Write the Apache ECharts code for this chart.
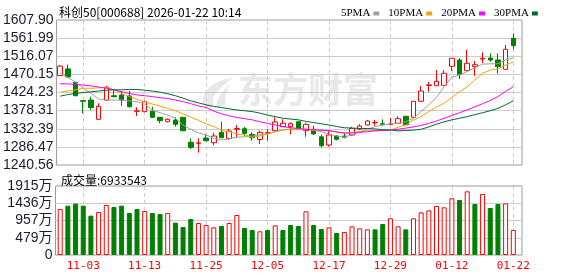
<!DOCTYPE html>
<html><head><meta charset="utf-8">
<script src="https://cdn.jsdelivr.net/npm/echarts@6/dist/echarts.min.js"></script>
<style>html,body{margin:0;padding:0;background:#fff}#c{width:578px;height:276px}</style>
</head><body><div id="c"></div>
<script>
const categories = ['10-29','10-30','10-31','11-03','11-04','11-05','11-06','11-07','11-10','11-11','11-12','11-13','11-14','11-17','11-18','11-19','11-20','11-21','11-24','11-25','11-26','11-27','11-28','12-01','12-02','12-03','12-04','12-05','12-08','12-09','12-10','12-11','12-12','12-15','12-16','12-17','12-18','12-19','12-22','12-23','12-24','12-25','12-26','12-29','12-30','12-31','01-05','01-06','01-07','01-08','01-09','01-12','01-13','01-14','01-15','01-16','01-19','01-20','01-21','01-22'];
const openP  = [1467,1484,1450,1403.5,1405,1356.3,1405,1416,1418,1415.4,1376.5,1375.6,1377,1361.4,1350.3,1354.6,1361.4,1298,1295.5,1309,1297,1323.4,1307.8,1331,1332.5,1318,1305.2,1321.5,1327.4,1337.6,1337.6,1350.2,1327.4,1331,1312,1291.2,1314,1314,1316.6,1331.7,1341.9,1347.5,1345,1343,1346.3,1364,1361.4,1402,1442,1441.5,1442.6,1490.6,1506.6,1479.5,1489.6,1509,1511.6,1506.6,1483,1561.5];
const closeP = [1491,1463.5,1416,1402,1386,1389.2,1437.4,1413.5,1405,1388.3,1377.5,1400.9,1361.4,1352.8,1356.3,1343.7,1327.4,1285.4,1296.5,1302,1314,1309.6,1326.4,1333,1320.8,1309.6,1323.4,1322.5,1349.5,1346.3,1345.3,1331,1343.7,1319.3,1289.5,1316.6,1305.6,1311,1333.4,1339.3,1352,1348.5,1343.7,1344.6,1357.9,1342.6,1402,1428,1443.5,1452.6,1472.9,1510.9,1470.4,1498.2,1494.7,1511,1506.6,1489.7,1533.6,1542.8];
const lowP   = [1466,1463,1415,1371.5,1380,1355,1404,1412,1390,1386,1364.7,1375,1360.5,1346,1348.7,1337.6,1327,1281,1272,1301,1291,1309,1303.8,1310,1314,1302,1293.8,1302,1325,1337,1318.3,1330.5,1312,1316.8,1285.4,1287,1303,1308,1314,1329,1341,1340,1340,1343,1346,1341,1360,1401.5,1426,1441,1441,1479,1458.4,1479,1466.8,1498,1502.3,1472,1483,1534];
const highP  = [1494,1495,1450.5,1404,1413.6,1397,1441.5,1430,1428,1428,1386.7,1403.5,1388,1362,1358,1361.4,1362,1308,1308,1319,1322,1350,1331.6,1342,1337,1323.4,1327.4,1331,1361.4,1356.3,1348.7,1350.5,1346.3,1340,1318,1329,1316,1321,1337.6,1344,1354.6,1354.6,1356,1360,1364,1364.5,1402.5,1440.7,1450.8,1481.2,1481,1511,1511,1532,1504,1526,1523.5,1523.5,1544.6,1574];
const prevCloseBefore = 1460;
const ma5  = [1473,1462,1451,1435,1422,1408,1405,1405,1405,1403,1401,1395,1380,1373,1367,1359,1342,1331,1322,1317,1308,1304,1307,1311,1312,1314,1317,1319,1325,1329,1331,1332,1331,1329,1325,1319,1314,1311,1317,1325,1331,1338,1342,1344,1346,1350,1359,1376,1393,1412,1439,1463,1469,1477,1487,1496,1497,1497,1507,1512];
const ma10 = [1425,1428,1431,1435,1435,1436,1437,1431,1422,1414,1407,1401,1395,1390,1384,1378,1370,1362,1354,1345,1338,1329,1325,1319,1317,1311,1314,1319,1325,1329,1332,1331,1331,1329,1328,1327,1325,1322,1322,1325,1327,1328,1328,1329,1336,1342,1355,1363,1376,1387,1397,1412,1426,1439,1456,1473,1481,1484,1494,1502];
const ma20 = [1446.5,1446,1445,1443,1441,1438,1435,1431,1426,1422,1418,1416,1414,1411,1409,1405,1401,1396,1390,1386,1377,1370,1365,1361,1358,1355,1350,1346,1342,1338,1335,1333,1331,1330,1329,1327.5,1324,1321,1322,1323,1325,1327,1328,1329,1331,1334,1337,1341,1346,1352,1359,1366,1373,1380,1388,1396,1404,1414,1427,1439];
const ma30 = [1415,1419,1422,1424,1426,1428,1430,1431,1431,1432,1432,1430,1428,1425,1421,1416,1410,1403,1398,1393,1389,1386,1383,1380,1378,1376,1372,1367,1363,1359,1357,1355,1351,1348,1345,1342,1338,1335,1334,1333,1333,1332,1330,1329,1327,1328,1329,1331,1337,1344,1350,1355,1359,1363,1368,1373,1378,1384,1393,1403];
const volumeWan = [1277,1369,1425,1369,1092,1193,1388,1332,1369,1166,1277,1221,1166,1138,1166,897,777,999,888,833,768,805,888,1110,749,694,657,694,823,694,833,805,1212,833,722,768,611,638,795,740,712,712,860,1018,795,712,1018,1184,1240,1360,1323,1573,1526,1767,1415,1693,1304,1415,1434,693.3543];
const priceTicks = ['1240.56','1286.47','1332.39','1378.31','1424.23','1470.15','1516.07','1561.99','1607.90'];
const volTicks = ['0','479万','957万','1436万','1915万'];
const priceMin = 1240.56, priceMax = 1607.90;
const volMax = 1915;
const titleText = '科创50[000688] 2026-01-22 10:14';
const volText = '成交量:6933543';
const labelIdx = [3,11,19,27,35,43,51,59];

const RED = '#ff0000', GREEN = '#008000';
const candleData = categories.map((c,i)=>[openP[i], closeP[i], lowP[i], highP[i]]);
const volData = volumeWan.map((v,i)=>{
  const prev = i===0 ? prevCloseBefore : closeP[i-1];
  const up = closeP[i] >= prev;
  return {value: v, itemStyle: up ? {color:'#fff', borderColor:RED, borderWidth:1} : {color:GREEN, borderColor:GREEN, borderWidth:1}};
});
const priceStep = (priceMax-priceMin)/8;
const volStep = volMax/4;
const isLab = (idx)=> labelIdx.indexOf(idx) >= 0;

const chart = echarts.init(document.getElementById('c'), null, {renderer:'canvas'});
const dashed = {show:true, interval:(i)=>isLab(i), lineStyle:{color:'#cccccc', type:[4,3], width:1}};
const L = 55.5, Rb = 578-522, DL = 60.2, DR = 578-513.3;
chart.setOption({
  animation:false,
  backgroundColor:'#fff',
  title:[
    {text:titleText, left:54, top:1, textStyle:{fontSize:12, fontWeight:'normal', color:'#000', fontFamily:'Noto Sans CJK SC'}},
    {text:volText, left:56, top:169, textStyle:{fontSize:12, fontWeight:'normal', color:'#000', fontFamily:'Noto Sans CJK SC'}}
  ],
  legend:{data:['5PMA','10PMA','20PMA','30PMA'], left:336, top:3, align:'right', icon:'rect', itemWidth:6, itemHeight:4, itemGap:9,
    textStyle:{fontSize:11, color:'#000', fontFamily:'Liberation Serif', padding:[0,-2,0,0]}},
  graphic:[
    {type:'polygon', z:0, silent:true, shape:{points:[[233,77],[214,84],[203,97],[205,107],[212,107],[214,96],[233,77]], smooth:0.4}, style:{fill:'#e8e8ec'}},
    {type:'polygon', z:0, silent:true, shape:{points:[[231,83],[219,97],[217,107],[225,104],[226,93],[231,83]], smooth:0.4}, style:{fill:'#e8e8ec'}},
    {type:'text', left:238, top:72, z:0, silent:true, style:{text:'东方财富', fontSize:35, fontWeight:'bold', fill:'#e8e8ec', fontFamily:'Noto Sans CJK SC'}}
  ],
  grid:[
    {left:L, right:Rb, top:20, height:145, show:true, borderColor:'#999', borderWidth:1, backgroundColor:'transparent'},
    {left:DL, right:DR, top:20, height:145},
    {left:L, right:Rb, top:186, height:69, show:true, borderColor:'#999', borderWidth:1, backgroundColor:'transparent'},
    {left:DL, right:DR, top:186, height:69}
  ],
  xAxis:[
    {gridIndex:0, type:'category', data:categories, show:false},
    {gridIndex:1, type:'category', data:categories, boundaryGap:false, axisLine:{show:false}, axisTick:{show:false}, axisLabel:{show:false}, splitLine:dashed},
    {gridIndex:2, type:'category', data:categories, show:false},
    {gridIndex:3, type:'category', data:categories, boundaryGap:false, axisLine:{show:false}, axisTick:{show:false},
      axisLabel:{show:true, interval:(i)=>isLab(i), color:RED, fontSize:11, fontFamily:'DejaVu Sans Mono', margin:6}, splitLine:dashed}
  ],
  yAxis:[
    {gridIndex:0, type:'value', min:priceMin, max:priceMax, interval:priceStep, axisLine:{show:false}, axisTick:{show:false},
      axisLabel:{fontSize:14, color:'#1a1a2e', fontFamily:'Liberation Sans', margin:3, formatter:(v)=>priceTicks[Math.round((v-priceMin)/priceStep)]},
      splitLine:{lineStyle:{color:'#cccccc', width:1}}},
    {gridIndex:1, type:'value', min:priceMin, max:priceMax, show:false, splitLine:{show:false}},
    {gridIndex:2, type:'value', min:0, max:volMax, interval:volStep, axisLine:{show:false}, axisTick:{show:false},
      axisLabel:{fontSize:14, color:'#1a1a2e', fontFamily:'Liberation Sans, Noto Sans CJK SC', margin:3, formatter:(v)=>volTicks[Math.round(v/volStep)]},
      splitLine:{lineStyle:{color:'#cccccc', width:1}}},
    {gridIndex:3, type:'value', min:0, max:volMax, show:false, splitLine:{show:false}}
  ],
  series:[
    {type:'candlestick', xAxisIndex:1, yAxisIndex:1, data:candleData, barWidth:5,
      itemStyle:{color:'#fff', color0:GREEN, borderColor:RED, borderColor0:GREEN, borderWidth:1}},
    {name:'5PMA', type:'line', xAxisIndex:1, yAxisIndex:1, data:ma5, symbol:'none', color:'#a0a0a0', lineStyle:{width:1, color:'#a0a0a0'}},
    {name:'10PMA', type:'line', xAxisIndex:1, yAxisIndex:1, data:ma10, symbol:'none', color:'#f5a300', lineStyle:{width:1, color:'#f5a300'}},
    {name:'20PMA', type:'line', xAxisIndex:1, yAxisIndex:1, data:ma20, symbol:'none', color:'#ff00ff', lineStyle:{width:1, color:'#ff00ff'}},
    {name:'30PMA', type:'line', xAxisIndex:1, yAxisIndex:1, data:ma30, symbol:'none', color:'#006a2e', lineStyle:{width:1, color:'#006a2e'}},
    {type:'bar', xAxisIndex:3, yAxisIndex:3, data:volData, barWidth:5}
  ]
});
</script></body></html>
